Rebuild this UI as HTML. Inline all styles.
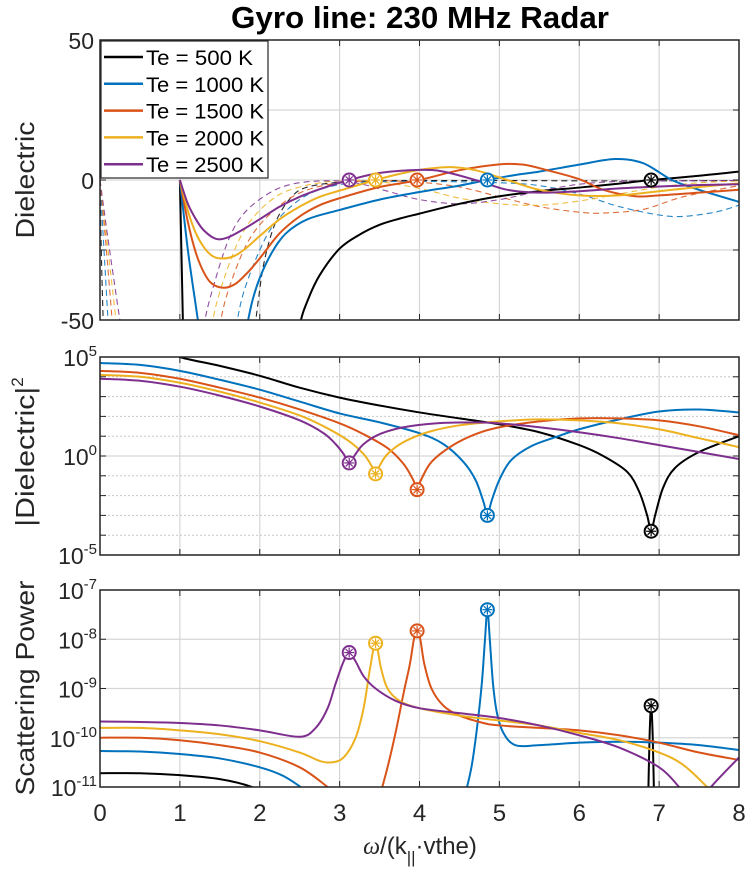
<!DOCTYPE html>
<html><head><meta charset="utf-8">
<style>
html,body{margin:0;padding:0;background:#fff;}
svg{display:block;font-family:"Liberation Sans",Arial,sans-serif;}
</style></head>
<body>
<svg id="chart" width="747" height="879" viewBox="0 0 747 879" xmlns="http://www.w3.org/2000/svg">
<rect width="747" height="879" fill="#fff"/>
<text x="420" y="28" text-anchor="middle" font-size="31" font-weight="bold" textLength="378" lengthAdjust="spacingAndGlyphs">Gyro line: 230 MHz Radar</text>
<g id="layer"></g>
</svg>
<script>
// ---- data ----
const seriesNames = ["Te = 500 K","Te = 1000 K","Te = 1500 K","Te = 2000 K","Te = 2500 K"];
const seriesColors = ["#000000","#0072BD","#D95319","#EDB120","#7E2F8E"];
const xTicks = [0,1,2,3,4,5,6,7,8];
const resonanceX = [6.9,4.85,3.97,3.45,3.12];
// Panel 1: real part (solid), null separates segments
const realX = [
 [1,1.03,1.06,null,2.4,2.5,2.6,2.75,3,3.25,3.5,3.75,4,4.5,5,5.5,6,6.5,6.9,7.5,8],
 [1,1.1,1.2,1.25,null,1.8,1.9,2,2.15,2.33,2.6,3,3.5,4,4.5,4.85,5.2,5.5,6,6.45,6.8,7.16,7.5,8],
 [1,1.1,1.2,1.3,1.4,1.55,1.7,1.85,2,2.25,2.5,2.75,3,3.5,4,4.5,5,5.3,5.6,6,6.3,6.7,7,7.5,8],
 [1,1.1,1.2,1.3,1.4,1.5,1.65,1.8,2,2.25,2.5,2.75,3,3.45,3.8,4.1,4.4,4.7,5.1,5.5,6,6.5,7,7.5,8],
 [1,1.1,1.2,1.3,1.45,1.6,1.8,2,2.25,2.5,2.8,3.12,3.5,4,4.3,4.7,5.1,5.5,6,6.5,7,7.5,8]
];
const realY = [
 [0,-40,-80,null,-70,-52,-43,-34,-24.5,-19.5,-16,-13.8,-12,-8.5,-5.8,-4,-2.7,-1.3,0,1.5,3],
 [0,-25,-45,-55,null,-58,-44,-35,-26,-19,-14,-10.7,-7,-4.3,-2,0,1.8,3,5.5,7.5,6,0,-3.5,-7.8],
 [0,-15,-26,-33,-37,-38.5,-37,-33,-28,-19,-13,-9,-6.5,-2.5,0,3.5,5.6,5.5,3.5,0.3,-3.5,-5.8,-5.5,-4.5,-3.5],
 [0,-11,-19,-24,-27,-28,-27.5,-25,-20,-14,-9.5,-6,-3.8,0,2.5,4,4.6,3.5,0,-3.5,-5.5,-5.5,-4,-2.5,-1.2],
 [0,-8.5,-14,-18,-21,-20.5,-17.5,-14,-9.5,-6,-2.8,0,2.5,3.6,3,0,-3.5,-4.5,-4,-3,-2.3,-1.8,-1.5]
];
// Panel 1: imaginary part (dashed)
const imagX = [
 [0,0.02,0.05,null,1.85,1.95,2.05,2.2,2.4,2.6,3,3.5,4,5,6,7,8],
 [0,0.05,0.12,null,1.6,1.7,1.8,2,2.2,2.5,2.8,3.2,4,5,5.5,6,6.5,7,7.3,7.7,8],
 [0,0.08,0.18,null,1.4,1.5,1.6,1.8,2,2.3,2.6,3,3.5,4,4.5,5,5.5,6,6.3,6.8,7.3,8],
 [0,0.1,0.24,null,1.3,1.4,1.5,1.7,1.9,2.2,2.5,2.9,3.4,4,4.5,5,5.5,6,6.5,7,7.5,8],
 [0,0.12,0.3,null,1.2,1.3,1.4,1.6,1.8,2.1,2.4,2.8,3.2,3.6,4,4.5,5,5.5,6,6.5,7,8]
];
const imagY = [
 [0,-30,-60,null,-70,-50,-30,-15,-6,-2.5,-0.8,-0.3,-0.2,-0.2,-0.3,-0.3,-0.2],
 [0,-25,-60,null,-70,-53,-40,-25,-15,-7,-3,-1,-0.5,-1,-2,-5,-9.5,-12.5,-13,-11.5,-9],
 [0,-25,-60,null,-70,-52,-40,-25,-16,-8,-3.5,-1,-0.3,-0.8,-2.5,-6,-9.5,-11.5,-11.8,-10.5,-6,-2],
 [0,-25,-60,null,-70,-52,-40,-24,-14,-6,-2.5,-0.5,-0.3,-3,-6.5,-8.5,-9,-7.5,-5,-2.5,-1,-0.3],
 [0,-25,-60,null,-70,-52,-40,-22,-12,-5,-1.5,-0.3,-1,-4,-7,-8.5,-7,-4,-1.5,-0.5,-0.3,-0.2]
];
// Panel 2: log10 |Dielectric|^2
const magX = [
 [0.95,1,1.5,2,2.5,3,3.5,4,4.5,5,5.5,6,6.3,6.6,6.75,6.85,6.9,6.95,7.05,7.2,7.5,8],
 [0,0.5,1,1.5,2,2.5,3,3.5,4,4.3,4.55,4.7,4.8,4.85,4.9,5,5.15,5.4,5.7,6,6.5,7,7.5,8],
 [0,0.5,1,1.5,2,2.5,3,3.3,3.6,3.8,3.92,3.97,4.02,4.15,4.4,4.7,5,5.5,6,6.5,7,7.5,8],
 [0,0.5,1,1.5,2,2.5,2.8,3.1,3.3,3.4,3.45,3.5,3.6,3.8,4.1,4.5,5,5.5,6,6.5,7,7.5,8],
 [0,0.5,1,1.5,2,2.5,2.8,2.95,3.05,3.12,3.2,3.3,3.5,3.8,4.2,4.7,5,5.5,6,6.5,7,7.5,8]
];
const magLog = [
 [5.3,5,4.55,4.05,3.45,2.95,2.55,2.2,1.9,1.6,1.2,0.55,0,-0.8,-1.8,-3,-3.8,-3,-1.6,-0.6,0.2,1.0],
 [4.7,4.6,4.3,3.85,3.35,2.75,2.15,1.7,1.15,0.6,-0.3,-1.2,-2.3,-3,-2.3,-1.2,-0.2,0.5,0.95,1.35,1.85,2.25,2.35,2.2],
 [4.3,4.2,3.9,3.45,2.95,2.35,1.65,1.1,0.4,-0.4,-1.2,-1.7,-1.2,-0.3,0.5,1.1,1.45,1.75,1.9,1.9,1.8,1.5,1.05],
 [4.1,4.0,3.7,3.25,2.7,2.05,1.5,0.8,0.1,-0.5,-0.9,-0.5,0.1,0.7,1.2,1.55,1.75,1.85,1.8,1.65,1.35,0.9,0.45],
 [3.9,3.8,3.5,3.05,2.5,1.8,1.15,0.6,0.1,-0.35,0.1,0.6,1.1,1.45,1.65,1.7,1.65,1.45,1.2,0.9,0.55,0.2,-0.15]
];
const magMinLog = [-3.8,-3,-1.7,-0.9,-0.35];
// Panel 3: log10 scattering power
const powX = [
 [0,0.5,1,1.5,1.9,2.1,null,6.86,6.88,6.9,6.92,6.94],
 [0,0.5,1,1.5,2,2.3,2.6,null,4.55,4.65,4.72,4.78,4.82,4.85,4.88,4.92,4.97,5.05,5.2,5.5,6,6.5,7,7.5,8],
 [0,0.5,1,1.5,2,2.5,2.85,3,null,3.5,3.6,3.7,3.8,3.88,3.93,3.97,4.01,4.06,4.15,4.3,4.5,4.8,5,5.5,6,6.5,7,7.5,8],
 [0,0.5,1,1.5,2,2.5,2.75,2.9,3.05,3.2,3.3,3.38,3.45,3.52,3.6,3.75,4,4.5,5,5.5,6,6.5,7,7.3,7.6,7.7],
 [0,0.5,1,1.5,2,2.5,2.7,2.85,2.95,3.05,3.12,3.2,3.3,3.45,3.7,4,4.5,5,5.5,6,6.5,7,7.25,7.35,null,7.6,7.65,8]
];
const powLog = [
 [-10.72,-10.72,-10.76,-10.84,-11,-11.2,null,-11.5,-10,-9.35,-10,-11.5],
 [-10.27,-10.28,-10.33,-10.42,-10.6,-10.78,-11.1,null,-11.3,-10.6,-9.8,-8.9,-8.0,-7.4,-8.0,-8.9,-9.5,-9.9,-10.15,-10.15,-10.1,-10.08,-10.1,-10.15,-10.25],
 [-10.0,-10.0,-10.05,-10.15,-10.3,-10.6,-11,-11.2,null,-11.2,-10.6,-9.9,-9.1,-8.5,-8.0,-7.83,-8.0,-8.5,-9.0,-9.35,-9.55,-9.7,-9.75,-9.8,-9.85,-9.95,-10.1,-10.3,-10.45],
 [-9.8,-9.8,-9.85,-9.93,-10.07,-10.3,-10.47,-10.5,-10.4,-10.0,-9.4,-8.6,-8.08,-8.6,-9.0,-9.25,-9.4,-9.55,-9.65,-9.75,-9.9,-10.05,-10.3,-10.55,-11,-11.2],
 [-9.67,-9.68,-9.7,-9.75,-9.85,-9.98,-9.8,-9.4,-8.9,-8.45,-8.27,-8.45,-8.75,-9.0,-9.25,-9.4,-9.5,-9.6,-9.75,-9.95,-10.2,-10.6,-11,-11.2,null,-11.2,-11,-10.4]
];
const powPeakLog = [-9.35,-7.4,-7.83,-8.08,-8.27];
const p1Ticks = [-50,0,50];
const p1Grid = [-50,-25,0,25,50];
const p2Ticks = [-5,0,5];
const p3Ticks = [-11,-10,-9,-8,-7];

// ---- layout ----
const NS = "http://www.w3.org/2000/svg";
const L = 100, R = 739;
const panels = [
 {top:40,bottom:320,min:-50,max:50},
 {top:357,bottom:555,min:-5,max:5},
 {top:590,bottom:787,min:-11,max:-7}
];
const layer = document.getElementById('layer');
function xs(v){return L + (v-0)/(8-0)*(R-L);}
function ysF(p){return v => p.bottom - (v-p.min)/(p.max-p.min)*(p.bottom-p.top);}
function mk(tag, attrs, parent){const e=document.createElementNS(NS,tag);for(const k in attrs)e.setAttribute(k,attrs[k]);(parent||layer).appendChild(e);return e;}

function smoothPath(X, Y, sx, sy){
  let d=""; let seg=[];
  const flush=()=>{
    if(seg.length<2){seg=[];return;}
    d+="M"+seg[0][0].toFixed(2)+","+seg[0][1].toFixed(2);
    for(let i=0;i<seg.length-1;i++){
      const p0=seg[Math.max(0,i-1)],p1=seg[i],p2=seg[i+1],p3=seg[Math.min(seg.length-1,i+2)];
      const c1x=p1[0]+(p2[0]-p0[0])/6,c1y=p1[1]+(p2[1]-p0[1])/6;
      const c2x=p2[0]-(p3[0]-p1[0])/6,c2y=p2[1]-(p3[1]-p1[1])/6;
      d+="C"+c1x.toFixed(2)+","+c1y.toFixed(2)+" "+c2x.toFixed(2)+","+c2y.toFixed(2)+" "+p2[0].toFixed(2)+","+p2[1].toFixed(2);
    }
    seg=[];
  };
  for(let i=0;i<X.length;i++){
    if(X[i]===null||Y[i]===null){flush();continue;}
    seg.push([sx(X[i]),sy(Y[i])]);
  }
  flush();
  return d;
}

function marker(cx, cy, color, parent){
  const g=mk('g',{},parent);
  
  
  mk('circle',{cx:cx,cy:cy,r:6.5,fill:'#fff',stroke:color,'stroke-width':2},g);
  for(let a=0;a<4;a++){
    const ang=a*Math.PI/4, dx=Math.cos(ang)*5, dy=Math.sin(ang)*5;
    mk('line',{x1:cx-dx,y1:cy-dy,x2:cx+dx,y2:cy+dy,stroke:color,'stroke-width':1.2},g);
  }
}

panels.forEach((p,pi)=>{
  const sy=ysF(p);
  const g=mk('g',{});
  
  
  const cp=mk('clipPath',{id:'clip'+pi},g);
  mk('rect',{x:L,y:p.top,width:R-L,height:p.bottom-p.top},cp);
  xTicks.forEach(t=>{
    const gl=mk('line',{x1:xs(t),x2:xs(t),y1:p.top,y2:p.bottom,stroke:'#d6d6d6','stroke-width':1.2},g);
    
    
    mk('line',{x1:xs(t),x2:xs(t),y1:p.bottom,y2:p.bottom-6,stroke:'#262626','stroke-width':1},g);
    mk('line',{x1:xs(t),x2:xs(t),y1:p.top,y2:p.top+6,stroke:'#262626','stroke-width':1},g);
  });
  let gy = pi===0 ? p1Grid : (pi===1 ? [-5,-4,-3,-2,-1,0,1,2,3,4,5] : p3Ticks);
  gy.forEach(v=>{
    const major = pi!==1 || v%5===0;
    const gl=mk('line',{x1:L,x2:R,y1:sy(v),y2:sy(v),stroke:major?'#d6d6d6':'#c8c8c8','stroke-width':major?1.2:1,'stroke-dasharray':major?'':'2,2'},g);
    
    
    mk('line',{x1:L,x2:L+6,y1:sy(v),y2:sy(v),stroke:'#262626','stroke-width':1},g);
    mk('line',{x1:R,x2:R-6,y1:sy(v),y2:sy(v),stroke:'#262626','stroke-width':1},g);
  });
  const tl = pi===0?p1Ticks:(pi===1?p2Ticks:p3Ticks);
  tl.forEach(v=>{
    const t=mk('text',{x:L-6,y:sy(v)+9,'text-anchor':'end','font-size':23,fill:'#262626'},g);
    
    
    if(pi===0){t.textContent=v;}
    else{
      t.textContent='10';
      const s=mk('tspan',{dy:-10,'font-size':15},t); s.textContent=v;
      t.setAttribute('x',L-3);
    }
  });
  const cg=mk('g',{'clip-path':'url(#clip'+pi+')'},g);
  if(pi===0){
    imagX.forEach((X,si)=>{
      const pth=mk('path',{d:smoothPath(X,imagY[si],xs,sy),fill:'none',stroke:seriesColors[si],'stroke-width':1.1,'stroke-dasharray':'6,4',opacity:0.85},cg);
      
      
    });
    realX.forEach((X,si)=>{
      const pth=mk('path',{d:smoothPath(X,realY[si],xs,sy),fill:'none',stroke:seriesColors[si],'stroke-width':2},cg);
      
      
    });
    resonanceX.forEach((rx,si)=>marker(xs(rx),sy(0),seriesColors[si],g));
  } else if(pi===1){
    magX.forEach((X,si)=>{
      const pth=mk('path',{d:smoothPath(X,magLog[si],xs,sy),fill:'none',stroke:seriesColors[si],'stroke-width':2},cg);
      
      
    });
    resonanceX.forEach((rx,si)=>marker(xs(rx),sy(magMinLog[si]),seriesColors[si],g));
  } else {
    powX.forEach((X,si)=>{
      const pth=mk('path',{d:smoothPath(X,powLog[si],xs,sy),fill:'none',stroke:seriesColors[si],'stroke-width':2},cg);
      
      
    });
    resonanceX.forEach((rx,si)=>marker(xs(rx),sy(powPeakLog[si]),seriesColors[si],g));
  }
  const box=mk('rect',{x:L,y:p.top,width:R-L,height:p.bottom-p.top,fill:'none',stroke:'#262626','stroke-width':1.5},g);
  
  
});

xTicks.forEach(t=>{
  const e=mk('text',{x:xs(t),y:821,'text-anchor':'middle','font-size':24,fill:'#262626'});
  
  
  e.textContent=t;
});
const xl=mk('text',{x:420,y:854,'text-anchor':'middle','font-size':24,fill:'#262626'});


xl.innerHTML='<tspan font-family="Liberation Serif" font-style="italic">ω</tspan>/(k<tspan dy="9" font-size="17">||</tspan><tspan dy="-9">·vthe)</tspan>';
[["Dielectric",180,'y-axis-title-dielectric',117],["|Dielectric|",452,'y-axis-title-magnitude',140],["Scattering Power",688,'y-axis-title-scattering',215]].forEach((a,i)=>{
  const e=mk('text',{x:0,y:0,transform:'translate(34,'+a[1]+') rotate(-90)','text-anchor':'middle','font-size':26,fill:'#262626'});
  
  
  const s0=mk('tspan',{textLength:a[3],lengthAdjust:'spacingAndGlyphs'},e);
  s0.textContent=a[0];
  if(i===1){const s=mk('tspan',{dy:-11,'font-size':17},e);s.textContent='2';}
});
const lg=mk('g',{});


mk('rect',{x:101,y:41,width:167,height:137,fill:'#fff',stroke:'#262626','stroke-width':1.2},lg);
seriesNames.forEach((n,i)=>{
  const y=57+i*26.8;
  const e=mk('g',{},lg);
  
  
  mk('line',{x1:104,x2:143,y1:y,y2:y,stroke:seriesColors[i],'stroke-width':2.5},e);
  const t=mk('text',{x:146,y:y+8,'font-size':21,fill:'#000',textLength:n.length>10?118:107,lengthAdjust:'spacingAndGlyphs'},e);
  t.textContent=n;
});
</script>
</body></html>
